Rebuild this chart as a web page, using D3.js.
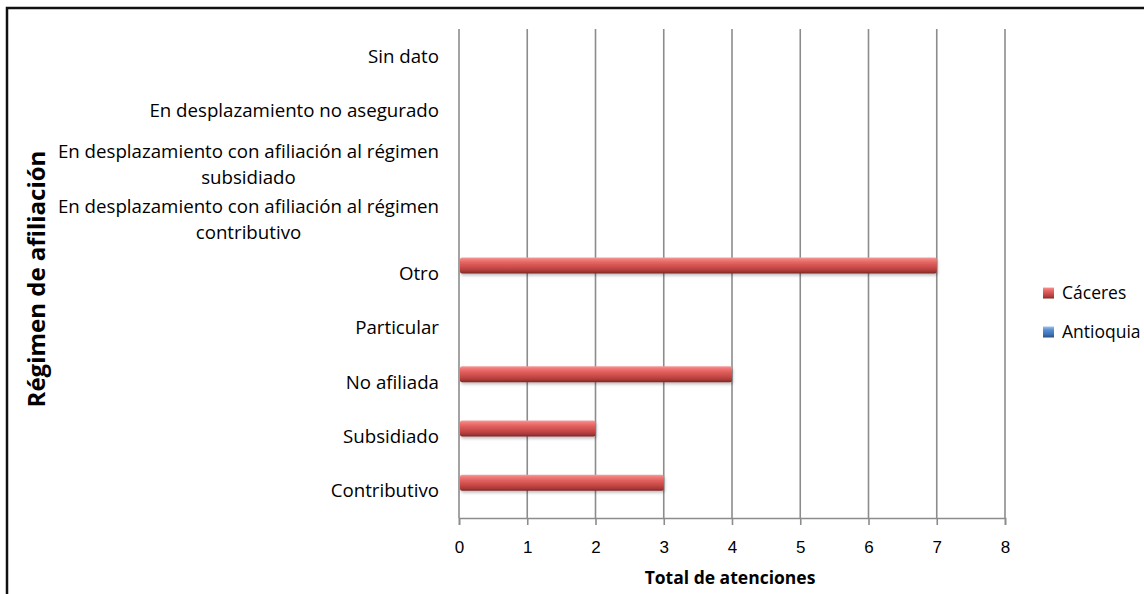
<!DOCTYPE html>
<html>
<meta charset="utf-8">
<script src="https://d3js.org/d3.v7.min.js"></script>
<style>
  body { margin: 0; background: #fff; }
  svg { display: block; font-family: "Open Sans", sans-serif; }
  .axis path, .axis line { stroke: #8c8c8c; stroke-width: 1.6; }
  .axis text { fill: #000; font-size: 17px; }
</style>
<body>
<script>
const categories = [
  "Sin dato",
  "En desplazamiento no asegurado",
  "En desplazamiento con afiliación al régimen subsidiado",
  "En desplazamiento con afiliación al régimen contributivo",
  "Otro",
  "Particular",
  "No afiliada",
  "Subsidiado",
  "Contributivo"
];
const series = ["Cáceres", "Antioquia"];
const caceres   = [0, 0, 0, 0, 7, 0, 4, 2, 3];
const antioquia = [0, 0, 0, 0, 0, 0, 0, 0, 0];
const xTicks = [0, 1, 2, 3, 4, 5, 6, 7, 8];

const rows = categories.map((c, i) => ({ cat: c, values: [
  { key: "Cáceres", value: caceres[i] },
  { key: "Antioquia", value: antioquia[i] }
]}));

const W = 1144, H = 594;
const plot = { left: 459, right: 1005, top: 29, bottom: 518 };

const svg = d3.select('body').append('svg')
  .attr('width', W)
  .attr('height', H);

// gradients for the bevelled bars
const defs = svg.append('defs');
const red = defs.append('linearGradient').attr('id', 'gRed')
  .attr('x1', 0).attr('y1', 0).attr('x2', 0).attr('y2', 1);
[[0, '#f4a0a0'], [0.12, '#f27c7a'], [0.35, '#e0605e'], [0.6, '#cc4c4a'], [0.85, '#aa3a38'], [1, '#7a2624']]
  .forEach(s => red.append('stop').attr('offset', s[0]).attr('stop-color', s[1]));
const blue = defs.append('linearGradient').attr('id', 'gBlue')
  .attr('x1', 0).attr('y1', 0).attr('x2', 0).attr('y2', 1);
[[0, '#9cc3ee'], [0.3, '#5b8fd2'], [0.7, '#3f73b8'], [1, '#2a4f82']]
  .forEach(s => blue.append('stop').attr('offset', s[0]).attr('stop-color', s[1]));
const shadow = defs.append('filter').attr('id', 'shadow')
  .attr('x', '-5%').attr('y', '-30%').attr('width', '110%').attr('height', '180%');
shadow.append('feDropShadow').attr('dx', 1).attr('dy', 2).attr('stdDeviation', 1.5)
  .attr('flood-color', '#000').attr('flood-opacity', 0.25);
const fills = { "Cáceres": 'url(#gRed)', "Antioquia": 'url(#gBlue)' };

// outer border (cut by the window on right and bottom)
svg.append('rect')
  .attr('x', 7).attr('y', 8)
  .attr('width', W + 20).attr('height', H + 20)
  .attr('fill', 'none').attr('stroke', '#111').attr('stroke-width', 2.5);

const x = d3.scaleLinear().domain([0, 8]).range([plot.left, plot.right]);
const y = d3.scaleBand().domain(categories).range([plot.top, plot.bottom]);
const y1 = d3.scaleBand().domain(series).range([0, y.bandwidth()]).paddingOuter(0.7);

// vertical gridlines
svg.append('g').selectAll('line').data(xTicks).enter().append('line')
  .attr('x1', d => x(d)).attr('x2', d => x(d))
  .attr('y1', plot.top).attr('y2', plot.bottom)
  .attr('stroke', '#8c8c8c').attr('stroke-width', 1.6);

// x axis
svg.append('g').attr('class', 'axis')
  .attr('transform', `translate(0,${plot.bottom})`)
  .call(d3.axisBottom(x).tickValues(xTicks).tickSize(7).tickSizeOuter(7).tickPadding(16).tickFormat(d3.format('d')));

// bars
const groups = svg.append('g').selectAll('g').data(rows).enter().append('g')
  .attr('transform', d => `translate(0,${y(d.cat)})`);
groups.selectAll('rect').data(d => d.values.filter(v => v.value > 0)).enter().append('rect')
  .attr('x', x(0) + 1)
  .attr('y', d => y1(d.key))
  .attr('width', d => x(d.value) - x(0) - 1)
  .attr('height', y1.bandwidth())
  .attr('rx', 2)
  .attr('fill', d => fills[d.key])
  .attr('filter', 'url(#shadow)');

// category labels, wrapped and centred as a block, right-aligned to the axis
const labelRight = 439, maxW = 400, lineH = 26;
const labels = svg.append('g').attr('font-size', 18.7).attr('fill', '#000');
categories.forEach(c => {
  const words = c.split(' ');
  const lines = [];
  const probe = labels.append('text');
  let cur = [];
  words.forEach(w => {
    probe.text(cur.concat(w).join(' '));
    if (probe.node().getComputedTextLength() > maxW && cur.length) {
      lines.push(cur.join(' '));
      cur = [w];
    } else cur.push(w);
  });
  lines.push(cur.join(' '));
  let blockW = 0;
  lines.forEach(l => { probe.text(l); blockW = Math.max(blockW, probe.node().getComputedTextLength()); });
  probe.remove();
  const cy = y(c) + y.bandwidth() / 2;
  const cx = labelRight - blockW / 2;
  lines.forEach((l, i) => {
    labels.append('text')
      .attr('x', cx)
      .attr('y', cy + (i - (lines.length - 1) / 2) * lineH)
      .attr('dy', '0.35em')
      .attr('text-anchor', 'middle')
      .text(l);
  });
});

// axis titles
svg.append('text')
  .attr('x', (plot.left + plot.right) / 2 - 2)
  .attr('y', 578).attr('dy', '0.35em')
  .attr('text-anchor', 'middle')
  .attr('font-size', 17.5).attr('font-weight', 'bold')
  .text('Total de atenciones');
svg.append('text')
  .attr('transform', 'translate(37,279) rotate(-90)')
  .attr('dy', '0.35em')
  .attr('text-anchor', 'middle')
  .attr('font-size', 24).attr('font-weight', 'bold')
  .text('Régimen de afiliación');

// legend
const legend = svg.append('g').selectAll('g').data(series).enter().append('g')
  .attr('transform', (d, i) => `translate(1043,${293 + i * 39})`);
legend.append('rect')
  .attr('x', 0).attr('y', -5.5).attr('width', 11).attr('height', 11)
  .attr('fill', d => fills[d]);
legend.append('text')
  .attr('x', 19).attr('dy', '0.35em')
  .attr('font-size', 17.5)
  .text(d => d);
</script>
</body>
</html>
